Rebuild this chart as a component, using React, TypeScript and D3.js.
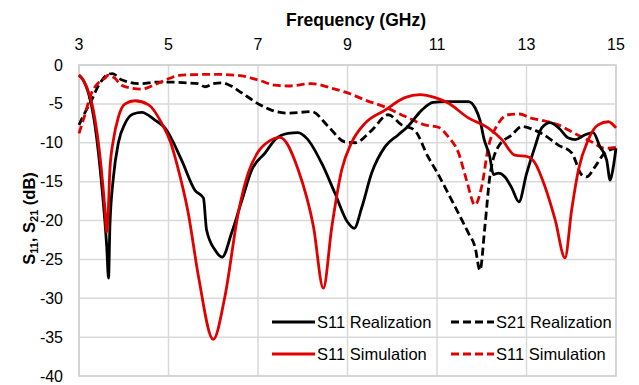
import React, { useRef, useEffect } from "react";
import * as d3 from "d3";

// x ticks (GHz) and y ticks (dB)
const freqTicks = [3, 5, 7, 9, 11, 13, 15];
const dbTicks = [0, -5, -10, -15, -20, -25, -30, -35, -40];

// [frequency GHz, dB]
const s11Realization: [number, number][] = [
  [3.0, -1.3], [3.1, -2.0], [3.21, -3.6], [3.36, -7.9], [3.51, -15.6], [3.62, -23.4],
  [3.66, -27.4], [3.69, -20.8], [3.77, -14.4], [3.88, -10.0], [4.03, -7.5], [4.21, -6.3],
  [4.4, -6.1], [4.7, -7.1], [4.92, -8.1], [5.29, -12.2], [5.59, -16.1], [5.78, -17.1],
  [5.85, -21.2], [6.04, -23.8], [6.2, -24.7], [6.41, -21.6], [6.64, -17.4], [6.86, -13.5],
  [7.16, -11.3], [7.38, -9.6], [7.67, -8.8], [7.89, -8.7], [8.1, -9.5], [8.42, -12.6],
  [8.72, -16.5], [9.0, -20.2], [9.15, -21.0], [9.32, -18.3], [9.54, -13.9], [9.84, -10.5],
  [10.13, -9.0], [10.35, -7.9], [10.66, -5.8], [10.91, -4.8], [11.2, -4.7], [11.7, -4.7],
  [11.85, -5.5], [11.96, -7.1], [12.05, -9.5], [12.18, -11.8], [12.26, -14.1], [12.37, -13.9],
  [12.52, -14.4], [12.67, -15.8], [12.83, -17.6], [13.0, -14.0], [13.19, -10.5], [13.34, -8.1],
  [13.53, -7.4], [13.72, -8.1], [13.94, -9.4], [14.09, -9.6], [14.3, -9.0], [14.49, -8.7],
  [14.64, -10.5], [14.79, -12.2], [14.87, -14.8], [14.94, -13.1], [15.0, -10.7],
];

const s11Simulation: [number, number][] = [
  [3.0, -1.3], [3.13, -2.3], [3.32, -5.8], [3.47, -11.8], [3.58, -18.6], [3.62, -21.5],
  [3.66, -18.0], [3.69, -13.5], [3.77, -9.6], [3.88, -6.7], [4.03, -5.0], [4.25, -4.6],
  [4.55, -5.1], [4.85, -7.5], [5.05, -10.0], [5.2, -13.0], [5.44, -19.0], [5.67, -27.2],
  [6.0, -35.3], [6.26, -29.8], [6.56, -19.0], [6.78, -13.9], [7.0, -11.2], [7.25, -9.8],
  [7.49, -9.3], [7.9, -13.5], [8.24, -20.8], [8.46, -28.7], [8.65, -20.8], [8.87, -13.5],
  [9.09, -10.0], [9.39, -7.5], [9.84, -5.8], [10.28, -4.2], [10.62, -3.8], [10.96, -4.2],
  [11.25, -4.9], [11.7, -6.8], [12.14, -8.1], [12.45, -9.6], [12.74, -11.6], [13.03, -11.8],
  [13.19, -12.6], [13.41, -15.6], [13.64, -19.9], [13.86, -24.8], [14.01, -18.6], [14.16, -13.5],
  [14.38, -9.6], [14.6, -7.7], [14.83, -7.3], [15.0, -8.1],
];

const s21Realization: [number, number][] = [
  [3.0, -7.7], [3.1, -6.5], [3.28, -4.5], [3.45, -2.5], [3.65, -1.2], [3.75, -1.1],
  [3.95, -1.9], [4.4, -2.4], [4.7, -2.2], [5.03, -2.2], [5.4, -2.3], [5.66, -2.4],
  [5.82, -2.8], [6.0, -2.4], [6.19, -2.3], [6.4, -2.7], [6.64, -3.6], [7.04, -5.1],
  [7.3, -5.8], [7.67, -6.2], [8.2, -6.0], [8.57, -7.9], [8.94, -9.9], [9.17, -10.0],
  [9.54, -8.4], [9.91, -6.4], [10.21, -7.7], [10.5, -8.4], [10.8, -11.8], [11.0, -13.8],
  [11.33, -17.4], [11.7, -21.6], [11.85, -23.4], [11.96, -26.4], [12.07, -20.8], [12.18, -14.4],
  [12.37, -10.5], [12.67, -9.0], [12.9, -7.9], [13.19, -8.4], [13.34, -8.8], [13.71, -10.3],
  [14.01, -11.3], [14.23, -14.1], [14.34, -14.4], [14.53, -13.1], [14.75, -11.3], [15.0, -10.7],
];

const s11SimulationDashed: [number, number][] = [
  [3.0, -8.8], [3.1, -7.0], [3.28, -3.6], [3.45, -2.2], [3.58, -1.7], [3.65, -1.3],
  [3.8, -1.7], [3.95, -2.6], [4.2, -3.0], [4.4, -3.1], [4.7, -2.5], [5.03, -1.7],
  [5.29, -1.3], [6.04, -1.2], [6.64, -1.4], [7.04, -2.0], [7.38, -2.6], [7.67, -2.7],
  [8.2, -2.4], [8.65, -3.0], [9.06, -3.7], [9.39, -4.5], [9.84, -5.4], [10.28, -6.6],
  [10.73, -7.7], [11.03, -8.0], [11.25, -9.2], [11.48, -11.3], [11.66, -14.8], [11.85, -18.0],
  [12.0, -15.6], [12.15, -10.5], [12.33, -7.9], [12.59, -6.4], [12.85, -6.3], [13.08, -6.8],
  [13.34, -7.1], [13.71, -7.7], [14.08, -8.8], [14.46, -9.9], [14.75, -10.7], [15.0, -10.6],
];

const series = [
  { name: "S11 Realization", data: s11Realization, color: "#000000", dash: null },
  { name: "S11 Simulation", data: s11Simulation, color: "#e00000", dash: null },
  { name: "S21 Realization", data: s21Realization, color: "#000000", dash: "8,4" },
  { name: "S11 Simulation", data: s11SimulationDashed, color: "#e00000", dash: "8,4" },
];

const width = 639;
const height = 385;
const font = "'Liberation Sans', Arial, sans-serif";

const App = () => {
  const ref = useRef<SVGSVGElement>(null);

  useEffect(() => {
    document.body.style.margin = "0";
    const svg = d3.select(ref.current);
    svg.selectAll("*").remove();

    const margin = { top: 65, right: 23, bottom: 9, left: 79 };
    const innerWidth = width - margin.left - margin.right;
    const innerHeight = height - margin.top - margin.bottom;

    const x = d3.scaleLinear().domain([3, 15]).range([0, innerWidth]);
    const y = d3.scaleLinear().domain([0, -40]).range([0, innerHeight]);

    const g = svg.append("g").attr("transform", `translate(${margin.left},${margin.top})`);

    // grid
    g.selectAll(".vgrid")
      .data(freqTicks)
      .enter()
      .append("line")
      .attr("x1", (d) => x(d))
      .attr("x2", (d) => x(d))
      .attr("y1", 0)
      .attr("y2", innerHeight)
      .attr("stroke", "#d9d9d9")
      .attr("stroke-width", 1.5);

    g.selectAll(".hgrid")
      .data(dbTicks)
      .enter()
      .append("line")
      .attr("x1", 0)
      .attr("x2", innerWidth)
      .attr("y1", (d) => y(d))
      .attr("y2", (d) => y(d))
      .attr("stroke", "#d9d9d9")
      .attr("stroke-width", 1.5);

    g.append("rect")
      .attr("width", innerWidth)
      .attr("height", innerHeight)
      .attr("fill", "none")
      .attr("stroke", "#d0d0d0")
      .attr("stroke-width", 1.5);

    // tick labels
    g.selectAll(".xlab")
      .data(freqTicks)
      .enter()
      .append("text")
      .attr("x", (d) => x(d))
      .attr("y", -15)
      .attr("text-anchor", "middle")
      .attr("font-family", font)
      .attr("font-size", 16)
      .attr("fill", "#000")
      .text((d) => d);

    g.selectAll(".ylab")
      .data(dbTicks)
      .enter()
      .append("text")
      .attr("x", -16)
      .attr("y", (d) => y(d))
      .attr("dy", "0.35em")
      .attr("text-anchor", "end")
      .attr("font-family", font)
      .attr("font-size", 16)
      .attr("fill", "#000")
      .text((d) => d);

    // titles
    svg.append("text")
      .attr("x", 356)
      .attr("y", 26)
      .attr("text-anchor", "middle")
      .attr("font-family", font)
      .attr("font-size", 17.5)
      .attr("font-weight", "bold")
      .text("Frequency (GHz)");

    const yt = svg.append("text")
      .attr("transform", `translate(35, ${margin.top + innerHeight / 2 - 2}) rotate(-90)`)
      .attr("text-anchor", "middle")
      .attr("font-family", font)
      .attr("font-size", 16.5)
      .attr("font-weight", "bold");
    yt.append("tspan").text("S");
    yt.append("tspan").attr("font-size", 11).attr("dy", 3).text("11");
    yt.append("tspan").attr("dy", -3).text(", S");
    yt.append("tspan").attr("font-size", 11).attr("dy", 3).text("21");
    yt.append("tspan").attr("dy", -3).text(" (dB)");

    // lines
    const line = d3.line<[number, number]>()
      .x((d) => x(d[0]))
      .y((d) => y(d[1]))
      .curve(d3.curveMonotoneX);

    const drawOrder = [series[2], series[3], series[0], series[1]];
    drawOrder.forEach((s) => {
      g.append("path")
        .datum(s.data)
        .attr("fill", "none")
        .attr("stroke", s.color)
        .attr("stroke-width", 2.8)
        .attr("stroke-dasharray", s.dash)
        .attr("d", line);
    });

    // legend
    const legendPos = [
      { x: 272, y: 322 },
      { x: 272, y: 354 },
      { x: 451, y: 322 },
      { x: 451, y: 354 },
    ];
    series.forEach((s, i) => {
      const p = legendPos[i];
      svg.append("line")
        .attr("x1", p.x)
        .attr("x2", p.x + 43)
        .attr("y1", p.y)
        .attr("y2", p.y)
        .attr("stroke", s.color)
        .attr("stroke-width", 2.8)
        .attr("stroke-dasharray", s.dash);
      svg.append("text")
        .attr("x", p.x + 45)
        .attr("y", p.y)
        .attr("dy", "0.35em")
        .attr("font-family", font)
        .attr("font-size", 16.5)
        .attr("fill", "#000")
        .text(s.name);
    });
  }, []);

  return <svg ref={ref} width={width} height={height} style={{ display: "block", background: "#fff" }} />;
};

export default App;
